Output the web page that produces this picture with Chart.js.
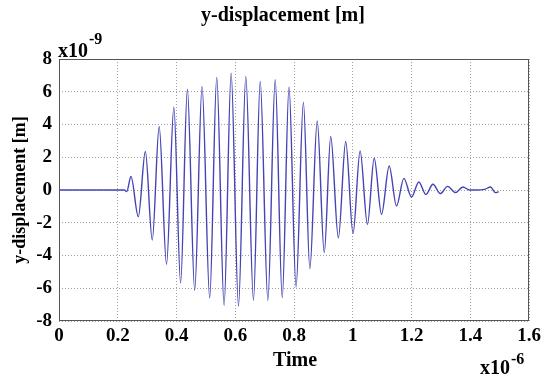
<!DOCTYPE html>
<html>
<head>
<meta charset="utf-8">
<script src="https://cdn.jsdelivr.net/npm/chart.js@4/dist/chart.umd.min.js"></script>
<style>
  html, body { margin: 0; padding: 0; background: #fff; }
  canvas { display: block; }
</style>
</head>
<body>
<canvas id="dispChart" width="541" height="376"></canvas>
<script>
//datos: tiempo en x1e-6 s, desplazamiento en x1e-9 m
const time = [0, 0.05, 0.1, 0.15, 0.2, 0.222, 0.2305, 0.245, 0.270, 0.294, 0.3175, 0.341,
    0.366, 0.391, 0.414, 0.437, 0.462, 0.487, 0.513, 0.537, 0.562, 0.586, 0.611, 0.636,
    0.662, 0.685, 0.711, 0.736, 0.760, 0.783, 0.807, 0.832, 0.854, 0.879, 0.903, 0.925,
    0.951, 0.976, 1.001, 1.025, 1.050, 1.073, 1.098, 1.124, 1.149, 1.174, 1.200, 1.225,
    1.249, 1.273, 1.298, 1.323, 1.350, 1.375, 1.398, 1.420, 1.449, 1.469, 1.486, 1.497]
const disp = [0, 0, 0, 0, 0, 0, -0.1, 0.82, -1.63, 2.35, -3.06, 3.88,
    -4.53, 5.06, -5.67, 6.16, -6.12, 6.33, -6.59, 6.88, -7.04, 7.14, -7.08, 6.94,
    -6.73, 6.63, -6.73, 6.73, -6.57, 6.29, -5.92, 5.35, -4.80, 4.22, -3.82, 3.27,
    -2.92, 2.96, -2.65, 2.39, -2.1, 1.94, -1.49, 1.47, -0.98, 0.71, -0.43, 0.49,
    -0.27, 0.35, -0.22, 0.22, -0.16, 0.18, 0, 0, 0.04, 0.18, -0.16, -0.1]

const xTicks = [0, 0.2, 0.4, 0.6, 0.8, 1, 1.2, 1.4, 1.6]
const yTicks = [-8, -6, -4, -2, 0, 2, 4, 6, 8]

const chartTitle = 'y-displacement [m]'
const xTitle = 'Time'
const yTitle = 'y-displacement [m]'
const xExp = '-6'
const yExp = '-9'

//valores por defecto
Chart.defaults.color = '#000'
Chart.defaults.font.family = "'Liberation Serif', 'Times New Roman', serif"
Chart.defaults.font.weight = 'bold'
Chart.defaults.font.size = 19

const serif = "'Liberation Serif', 'Times New Roman', serif"

//escribe x10 con el exponente pegado a su derecha
const drawExp = (ctx, exp, x, y, yExpBase) => {
    ctx.font = `bold 20px ${serif}`
    ctx.fillText('x10', x, y)
    const w = ctx.measureText('x10').width
    ctx.font = `bold 16px ${serif}`
    ctx.fillText(exp, x + w + 1, yExpBase)
}

//textos, caja y exponentes al estilo matlab
const matlabText = {
    id: 'matlabText',
    afterDraw(chart) {
        const {ctx, chartArea: a} = chart
        ctx.save()
        ctx.strokeStyle = '#555'
        ctx.lineWidth = 1
        ctx.strokeRect(a.left + 0.5, a.top + 0.5, a.right - a.left - 1, a.bottom - a.top - 1)

        ctx.fillStyle = '#000'
        ctx.textAlign = 'center'
        ctx.textBaseline = 'middle'
        ctx.font = `bold 20px ${serif}`
        ctx.fillText(chartTitle, 283, 16)
        ctx.fillText(xTitle, 295, 361)

        ctx.save()
        ctx.translate(20, 190)
        ctx.rotate(-Math.PI / 2)
        ctx.font = `bold 18px ${serif}`
        ctx.fillText(yTitle, 0, 0)
        ctx.restore()

        ctx.textAlign = 'left'
        ctx.textBaseline = 'alphabetic'
        drawExp(ctx, yExp, 58, 57, 44)
        drawExp(ctx, xExp, 480, 374, 364)
        ctx.restore()
    }
}

const renderChart = () => {
    const points = time.map((t, i) => ({x: t, y: disp[i]}))

    const data = {
        datasets: [{
            data: points,
            borderColor: '#4444b4',
            borderWidth: 1.4,
            pointRadius: 0,
            fill: false,
            cubicInterpolationMode: 'monotone'
        }]
    }

    const options = {
        responsive: false,
        animation: false,
        layout: { padding: { top: 59, right: 12, left: 0, bottom: 0 } },
        plugins: {
            legend: { display: false },
            tooltip: { enabled: false }
        },
        scales: {
            x: {
                type: 'linear',
                min: 0,
                max: 1.6,
                afterBuildTicks: s => { s.ticks = xTicks.map(v => ({value: v})) },
                afterFit: s => { s.height = 55; s.paddingLeft = 0; s.paddingRight = 0 },
                ticks: { padding: 4, maxRotation: 0, autoSkip: false, callback: v => String(v) },
                grid: { color: '#a0a0a0', lineWidth: 1, drawTicks: false },
                border: { display: false, dash: [1, 2] }
            },
            y: {
                min: -8,
                max: 8,
                afterBuildTicks: s => { s.ticks = yTicks.map(v => ({value: v})) },
                afterFit: s => { s.width = 59; s.paddingTop = 0; s.paddingBottom = 0 },
                ticks: { padding: 7, autoSkip: false, callback: v => String(v) },
                grid: { color: '#a0a0a0', lineWidth: 1, drawTicks: false },
                border: { display: false, dash: [1, 2] }
            }
        }
    }

    new Chart('dispChart', {type: 'line', data, options, plugins: [matlabText]})
}

renderChart()
</script>
</body>
</html>
